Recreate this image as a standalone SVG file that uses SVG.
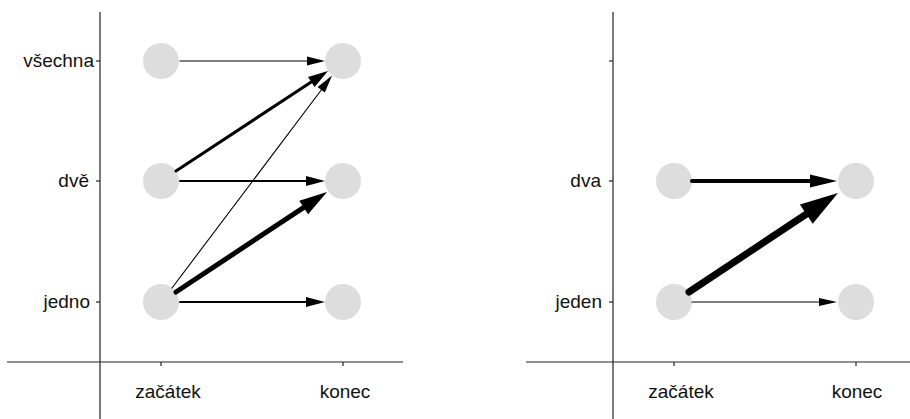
<svg xmlns="http://www.w3.org/2000/svg" width="910" height="419" viewBox="0 0 910 419">
<style>
.axis{stroke:#222;stroke-width:1.2;fill:none}
.node{fill:#dddddd}
.lbl{font-family:"Liberation Sans",Arial,sans-serif;font-size:19px;fill:#111}
.c{stroke:#000;fill:none;stroke-linecap:round}
.h{fill:#000;stroke:none}
</style>
<rect width="910" height="419" fill="#fff"/>
<g id="axes-left">
<line class="axis" x1="100" y1="12" x2="100" y2="419"/>
<line class="axis" x1="7" y1="362" x2="403" y2="362"/>
<line class="axis" x1="96" y1="61" x2="100" y2="61"/>
<line class="axis" x1="96" y1="181" x2="100" y2="181"/>
<line class="axis" x1="96" y1="302" x2="100" y2="302"/>
<line class="axis" x1="161" y1="362" x2="161" y2="366"/>
<line class="axis" x1="343" y1="362" x2="343" y2="366"/>
<text class="lbl" x="94" y="67" text-anchor="end">všechna</text>
<text class="lbl" x="89" y="187" text-anchor="end">dvě</text>
<text class="lbl" x="90" y="308" text-anchor="end">jedno</text>
<text class="lbl" x="168" y="398" text-anchor="middle">začátek</text>
<text class="lbl" x="345" y="398" text-anchor="middle">konec</text>
</g>
<g id="axes-right">
<line class="axis" x1="613" y1="12" x2="613" y2="419"/>
<line class="axis" x1="526" y1="362" x2="910" y2="362"/>
<line class="axis" x1="609" y1="61" x2="613" y2="61"/>
<line class="axis" x1="609" y1="181" x2="613" y2="181"/>
<line class="axis" x1="609" y1="302" x2="613" y2="302"/>
<line class="axis" x1="674" y1="362" x2="674" y2="366"/>
<line class="axis" x1="856" y1="362" x2="856" y2="366"/>
<text class="lbl" x="601" y="187" text-anchor="end">dva</text>
<text class="lbl" x="602" y="308" text-anchor="end">jeden</text>
<text class="lbl" x="681" y="398" text-anchor="middle">začátek</text>
<text class="lbl" x="857" y="398" text-anchor="middle">konec</text>
</g>
<g id="n-l-vsechna-start"><circle class="node" cx="161" cy="61" r="18"/></g>
<g id="n-l-dve-start"><circle class="node" cx="161" cy="181" r="18"/></g>
<g id="n-l-jedno-start"><circle class="node" cx="161" cy="302" r="18"/></g>
<g id="n-l-vsechna-end"><circle class="node" cx="343" cy="61" r="18"/></g>
<g id="n-l-dve-end"><circle class="node" cx="343" cy="181" r="18"/></g>
<g id="n-l-jedno-end"><circle class="node" cx="343" cy="302" r="18"/></g>
<g id="n-r-dva-start"><circle class="node" cx="674" cy="181" r="18"/></g>
<g id="n-r-jeden-start"><circle class="node" cx="674" cy="302" r="18"/></g>
<g id="n-r-dva-end"><circle class="node" cx="856" cy="181" r="18"/></g>
<g id="n-r-jeden-end"><circle class="node" cx="856" cy="302" r="18"/></g>
<g id="connectors">
<line class="c" stroke-width="1.2" x1="180" y1="61" x2="308" y2="61"/>
<polygon class="h" points="325,61 307,56.5 307,65.5"/>
<line class="c" stroke-width="3" x1="176" y1="171" x2="312" y2="81.5"/>
<polygon class="h" points="328,71 314.6,87 308,77"/>
<line class="c" stroke-width="1.1" x1="172" y1="288" x2="322" y2="89"/>
<polygon class="h" points="332.1,75.4 324.8,92.5 317.6,87.1"/>
<line class="c" stroke-width="2" x1="180" y1="181" x2="307" y2="181"/>
<polygon class="h" points="325,181 306,176 306,186"/>
<line class="c" stroke-width="5" x1="176" y1="292" x2="305" y2="206.6"/>
<polygon class="h" points="327,192 308.1,214.2 299.3,200.8"/>
<line class="c" stroke-width="2" x1="180" y1="302" x2="307" y2="302"/>
<polygon class="h" points="325,302 306,297 306,307"/>
<line class="c" stroke-width="4" x1="692" y1="181" x2="812" y2="181"/>
<polygon class="h" points="837,181 810,174.5 810,187.5"/>
<line class="c" stroke-width="7" x1="689" y1="292" x2="808" y2="213"/>
<polygon class="h" points="838,193 812.7,223.7 799.9,204.5"/>
<line class="c" stroke-width="1.2" x1="692" y1="302" x2="820" y2="302"/>
<polygon class="h" points="837,302 819,298 819,306"/>
</g>
</svg>
